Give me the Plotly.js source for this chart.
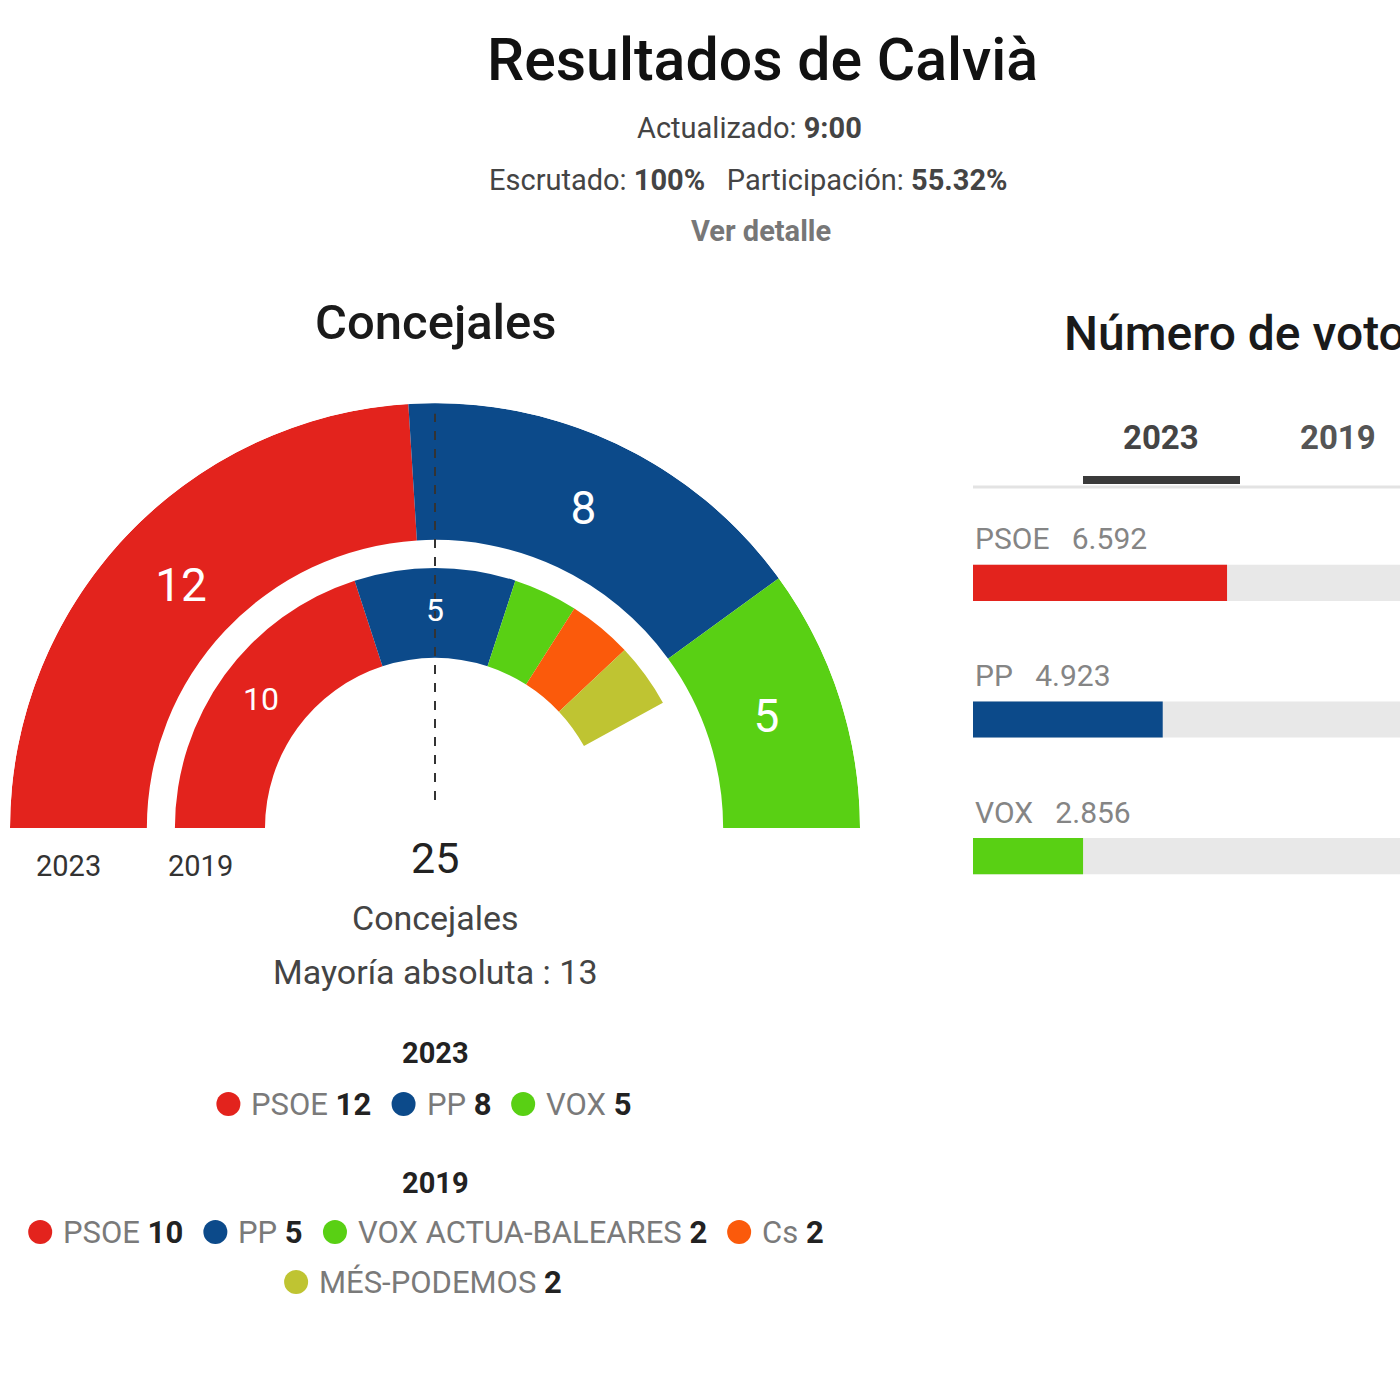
<!DOCTYPE html>
<html>
<head>
<meta charset="utf-8">
<script src="https://cdn.plot.ly/plotly-3.0.1.min.js"></script>
<style>
html,body{margin:0;padding:0;background:#fff;}
#chart{width:1400px;height:1400px;}
</style>
</head>
<body>
<div id="chart"></div>
<script>
// ---------------- DATA ----------------
const municipality = 'Calvià';
const updatedAt = '9:00';
const scrutinized = '100%';
const turnout = '55.32%';
const totalSeats = 25;
const majority = 13;

const parties2023 = ['PSOE', 'PP', 'VOX'];
const seats2023 = [12, 8, 5];
const colors2023 = ['#e3231d', '#0c4a8a', '#59d014'];

const parties2019 = ['PSOE', 'PP', 'VOX ACTUA-BALEARES', 'Cs', 'MÉS-PODEMOS'];
const seats2019 = [10, 5, 2, 2, 2];
const colors2019 = ['#e3231d', '#0c4a8a', '#59d014', '#fb5a0b', '#bfc432'];

const voteParties = ['PSOE', 'PP', 'VOX'];
const votes2023 = [6592, 4923, 2856];
const voteColors = ['#e3231d', '#0c4a8a', '#59d014'];
const tabYears = ['2023', '2019'];

// ---------------- HELPERS ----------------
const W = 1400, H = 1400;
const X = px => px / W;
const Y = py => 1 - py / H;
const FONT = 'Roboto, "Open Sans", sans-serif';
const fmt = n => String(n).replace(/\B(?=(\d{3})+(?!\d))/g, '.');

function ring(seats, colors, base, thick) {
  let cum = 0;
  const theta = [], width = [];
  seats.forEach(v => {
    theta.push((cum + v / 2) * 180 / totalSeats);
    width.push(v * 180 / totalSeats);
    cum += v;
  });
  return {theta, width, base, thick, seats, colors};
}

function build() {
  const outer = ring(seats2023, colors2023, 0.678, 0.322);
  const inner = ring(seats2019, colors2019, 0.40, 0.212);

  function barTrace(rg) {
    return {
      type: 'barpolar',
      r: rg.seats.map(() => rg.thick),
      base: rg.seats.map(() => rg.base),
      theta: rg.theta,
      width: rg.width,
      marker: {color: rg.colors, line: {width: 0}},
      hoverinfo: 'skip',
      showlegend: false
    };
  }
  function labelTrace(rg, size, minSeats, rfrac) {
    return {
      type: 'scatterpolar',
      mode: 'text',
      r: rg.seats.map(() => rg.base + rg.thick * rfrac),
      theta: rg.theta,
      text: rg.seats.map(v => v >= minSeats ? String(v) : ''),
      textfont: {color: '#ffffff', size: size, family: FONT},
      hoverinfo: 'skip',
      showlegend: false
    };
  }

  const majorityTheta = (totalSeats / 2) * 180 / totalSeats;

  const traces = [
    barTrace(outer),
    barTrace(inner),
    {
      type: 'scatterpolar', mode: 'lines',
      r: [0.066, 0.975], theta: [majorityTheta, majorityTheta],
      line: {color: '#333333', width: 2, dash: 'dash'},
      hoverinfo: 'skip', showlegend: false
    },
    labelTrace(outer, 46, 1, 0.44),
    labelTrace(inner, 32, 3, 0.5),
    {
      type: 'bar', orientation: 'h',
      x: votes2023.map(() => votes2023.reduce((a, b) => a + b, 0)),
      y: voteParties.map((_, i) => i),
      width: 0.265,
      marker: {color: '#e8e8e8', line: {width: 0}},
      hoverinfo: 'skip', showlegend: false
    },
    {
      type: 'bar', orientation: 'h',
      x: votes2023,
      y: voteParties.map((_, i) => i),
      width: 0.265,
      marker: {color: voteColors, line: {width: 0}},
      hoverinfo: 'skip', showlegend: false
    }
  ];

  // ---------------- ANNOTATIONS ----------------
  const ann = [];
  function txt(x, y, text, size, color, opts = {}) {
    ann.push(Object.assign({
      xref: 'paper', yref: 'paper', x: X(x), y: Y(y),
      xanchor: 'center', yanchor: 'middle',
      text: text, showarrow: false,
      font: {family: FONT, size: size, color: color, weight: opts.weight || 400}
    }, opts.extra || {}));
  }

  txt(762, 60, 'Resultados de ' + municipality, 59, '#111111', {weight: 500});
  txt(749, 128, 'Actualizado: <b>' + updatedAt + '</b>', 29, '#444444');
  txt(748, 180, 'Escrutado: <b>' + scrutinized + '</b>\u00a0\u00a0\u00a0Participación: <b>' + turnout + '</b>', 29, '#444444');
  txt(761, 231, '<b>Ver detalle</b>', 29, '#777777');

  txt(436, 323, 'Concejales', 49, '#1a1a1a', {weight: 500});
  txt(1062, 333, 'Número de votos', 48, '#1a1a1a', {weight: 500, extra: {xanchor: 'left'}});

  txt(68, 866, '2023', 29, '#333333');
  txt(200, 866, '2019', 29, '#333333');
  txt(435, 858, String(totalSeats), 43, '#222222');
  txt(435, 918, 'Concejales', 34, '#444444');
  txt(435, 972, 'Mayoría absoluta : ' + majority, 34, '#444444');

  txt(1161, 438, '<b>' + tabYears[0] + '</b>', 33, '#444444');
  txt(1338, 438, '<b>' + tabYears[1] + '</b>', 33, '#555555');

  voteParties.forEach((p, i) => {
    ann.push({
      xref: 'x', yref: 'y', x: 0, y: i, xanchor: 'left', yanchor: 'middle',
      yshift: 44, showarrow: false,
      text: p + '\u00a0\u00a0\u00a0' + fmt(votes2023[i]),
      font: {family: FONT, size: 30, color: '#858585'}
    });
  });

  // ---------------- SEAT LEGENDS (measured rows) ----------------
  const LSIZE = 31, DOT = 24, DOT_TO_TEXT = 9, ITEM_GAP = 22;
  const cv = document.createElement('canvas').getContext('2d');
  function measure(str, weight) {
    cv.font = weight + ' ' + LSIZE + 'px Roboto';
    return cv.measureText(str).width;
  }
  const dotX = [], dotY = [], dotC = [];
  function legendRow(names, seats, colors, cx, cy) {
    const widths = names.map((n, i) => measure(n + ' ', 400) + measure(String(seats[i]), 700));
    const total = widths.reduce((a, w) => a + DOT + DOT_TO_TEXT + w, 0) + ITEM_GAP * (names.length - 1);
    let x = cx - total / 2;
    names.forEach((n, i) => {
      dotX.push(x + DOT / 2); dotY.push(cy); dotC.push(colors[i]);
      ann.push({
        xref: 'paper', yref: 'paper', x: X(x + DOT + DOT_TO_TEXT), y: Y(cy),
        xanchor: 'left', yanchor: 'middle', showarrow: false,
        text: '<span style="color:#7a7a7a">' + n + ' </span><b>' + seats[i] + '</b>',
        font: {family: FONT, size: LSIZE, color: '#222222'}
      });
      x += DOT + DOT_TO_TEXT + widths[i] + ITEM_GAP;
    });
  }
  txt(435, 1053, '<b>2023</b>', 29, '#222222');
  legendRow(parties2023, seats2023, colors2023, 423, 1104);
  txt(435, 1183, '<b>2019</b>', 29, '#222222');
  legendRow(parties2019.slice(0, 4), seats2019.slice(0, 4), colors2019.slice(0, 4), 425, 1232);
  legendRow(parties2019.slice(4), seats2019.slice(4), colors2019.slice(4), 422, 1282);

  traces.push({
    type: 'scatter', mode: 'markers', xaxis: 'x2', yaxis: 'y2',
    x: dotX, y: dotY,
    marker: {size: DOT, color: dotC, line: {width: 0}},
    hoverinfo: 'skip', showlegend: false
  });

  // ---------------- LAYOUT ----------------
  const layout = {
    width: W, height: H,
    margin: {l: 0, r: 0, t: 0, b: 0, pad: 0},
    paper_bgcolor: '#ffffff', plot_bgcolor: 'rgba(0,0,0,0)',
    showlegend: false, hovermode: false,
    barmode: 'overlay',
    polar: {
      domain: {x: [X(10), X(860)], y: [Y(828), Y(403)]},
      sector: [0, 180],
      hole: 0,
      bgcolor: 'rgba(0,0,0,0)',
      radialaxis: {visible: false, range: [0, 1], showgrid: false, showline: false, ticks: ''},
      angularaxis: {visible: false, rotation: 180, direction: 'clockwise', showgrid: false, showline: false, ticks: ''}
    },
    xaxis: {domain: [X(973), 1], range: [0, 11080], visible: false, fixedrange: true},
    yaxis: {domain: [Y(924.5), Y(514.5)], range: [2.5, -0.5], visible: false, fixedrange: true},
    xaxis2: {domain: [0, 1], range: [0, W], visible: false, anchor: 'y2', fixedrange: true},
    yaxis2: {domain: [0, 1], range: [H, 0], visible: false, anchor: 'x2', fixedrange: true},
    shapes: [
      {type: 'line', xref: 'paper', yref: 'paper', x0: X(973), x1: 1, y0: Y(487), y1: Y(487),
       line: {color: '#e3e3e3', width: 3}},
      {type: 'rect', xref: 'paper', yref: 'paper', x0: X(1083), x1: X(1240), y0: Y(484), y1: Y(476),
       fillcolor: '#3a3a3a', line: {width: 0}}
    ],
    annotations: ann
  };

  Plotly.newPlot('chart', traces, layout, {staticPlot: true, displayModeBar: false});
}

(document.fonts && document.fonts.load
  ? Promise.all([document.fonts.load('400 31px Roboto'), document.fonts.load('700 31px Roboto')]).catch(() => {})
  : Promise.resolve()).then(build);
</script>
</body>
</html>
